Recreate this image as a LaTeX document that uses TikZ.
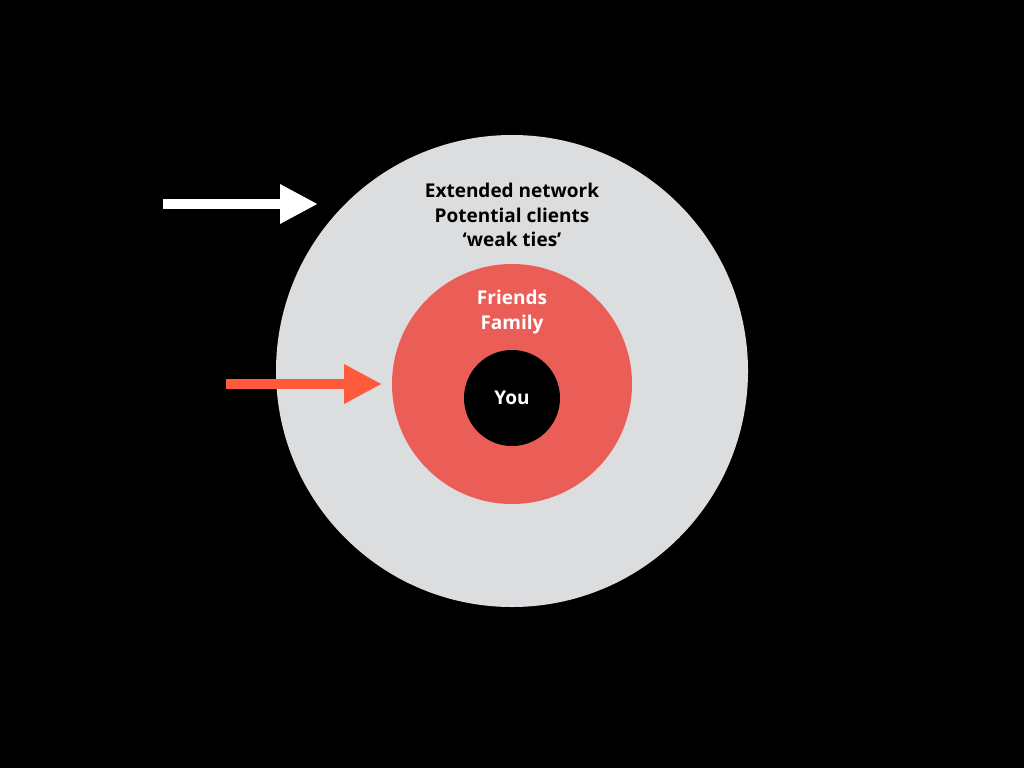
\documentclass[tikz,border=0pt]{standalone}
\usepackage{fontspec}
\setmainfont{Open Sans}
\usetikzlibrary{arrows.meta}
\begin{document}
\begin{tikzpicture}[x=1pt,y=-1pt,
  lbl/.style={font=\fontsize{19}{24.5}\selectfont\bfseries, align=center},
  arr/.style={line width=10pt, -{Triangle[length=38pt,width=37pt]}}]
\fill[black] (0,0) rectangle (1024,768);
\definecolor{lgray}{HTML}{DCDDDF}
\definecolor{redc}{HTML}{EB5E58}
\definecolor{orangec}{HTML}{FF5A3C}
\node[circle, fill=lgray, minimum size=472pt, inner sep=0] (outer) at (512,371) {};
\node[circle, fill=redc, minimum size=240pt, inner sep=0] (mid) at (512,384) {};
\node[circle, fill=black, minimum size=96pt, inner sep=0] (you) at (512,398) {};
\node[lbl, text=black] (t1) at (512,215) {Extended network\\Potential clients\\‘weak ties’};
\node[lbl, text=white] (t2) at (512,312) {Friends\\Family};
\node[lbl, text=white] (t3) at (512,398) {You};
\coordinate (w0) at (163,204);
\coordinate (w1) at (318,204);
\coordinate (r0) at (226,384);
\coordinate (r1) at (382,384);
\draw[arr, white] (w0) -- (w1);
\draw[arr, orangec] (r0) -- (r1);
\end{tikzpicture}
\end{document}
